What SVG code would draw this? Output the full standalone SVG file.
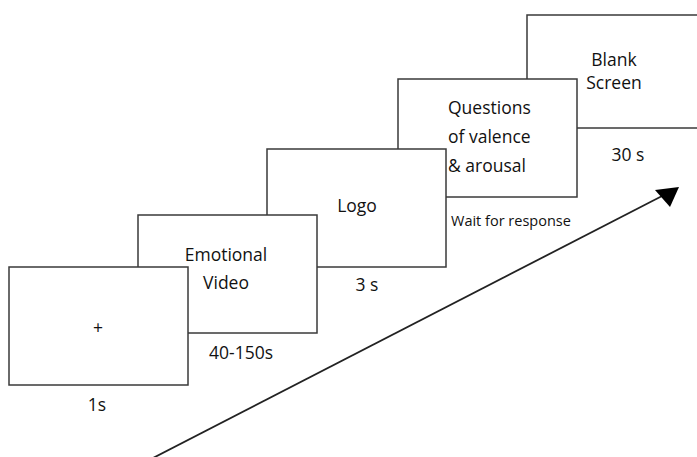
<svg xmlns="http://www.w3.org/2000/svg" width="697" height="457" viewBox="0 0 697 457">
<style>
.box{fill:#fff;stroke:#3a3a3a;stroke-width:1.5}
.t{font-family:"Open Sans","Noto Sans",sans-serif;font-size:17.5px;fill:#111;text-anchor:middle}
.s{font-family:"Open Sans","Noto Sans",sans-serif;font-size:14.5px;fill:#111}
</style>
<rect width="697" height="457" fill="#fff"/>
<g id="blank">
<rect class="box" x="527" y="15" width="175" height="113"/>
<text class="t" x="614" y="66">Blank</text>
<text class="t" x="614" y="89">Screen</text>
<text class="t" x="628" y="161">30 s</text>
</g>
<g id="questions">
<rect class="box" x="398" y="79" width="179" height="118"/>
<text class="t" style="text-anchor:start" x="448" y="114">Questions</text>
<text class="t" style="text-anchor:start" x="448" y="143">of valence</text>
<text class="t" style="text-anchor:start" x="448" y="172">&amp; arousal</text>
<text class="s" x="451" y="226">Wait for response</text>
</g>
<g id="logo">
<rect class="box" x="267" y="149" width="179" height="118"/>
<text class="t" x="357" y="212">Logo</text>
<text class="t" x="367" y="291">3 s</text>
</g>
<g id="video">
<rect class="box" x="138" y="215" width="179" height="118"/>
<text class="t" x="226" y="261">Emotional</text>
<text class="t" x="226" y="289">Video</text>
<text class="t" x="241" y="359">40-150s</text>
</g>
<g id="fixation">
<rect class="box" x="9" y="267" width="179" height="118"/>
<text class="t" x="98" y="334">+</text>
<text class="t" x="97" y="411">1s</text>
</g>
<g id="connectors">
<line x1="153" y1="458" x2="664" y2="195" stroke="#222" stroke-width="1.8"/>
<polygon points="679,187 655,190 670,207" fill="#000"/>
</g>
</svg>
